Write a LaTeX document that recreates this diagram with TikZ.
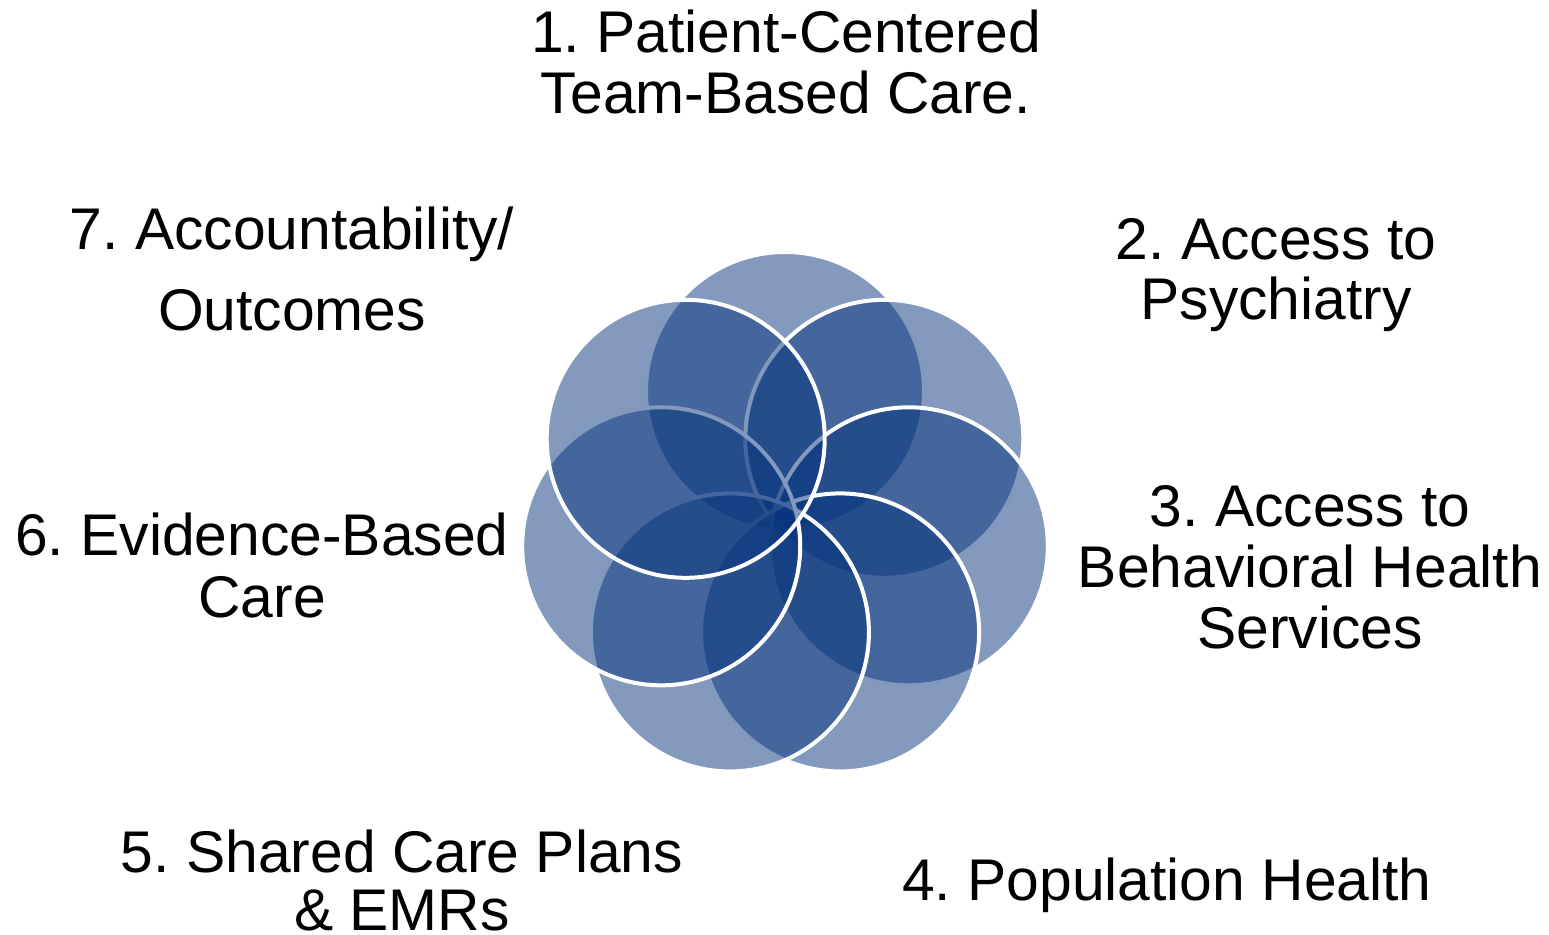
\documentclass[tikz,border=0pt]{standalone}
\usepackage{fontspec}
\setmainfont{Liberation Sans}
\usepackage{tikz}
\usetikzlibrary{positioning}
\frenchspacing
\definecolor{petalblue}{RGB}{7,52,124}
\tikzset{
  petal/.style={fill=petalblue, fill opacity=0.5, draw=white, line width=2pt},
  pillar/.style={align=center, anchor=base, inner sep=0pt, font=\fontsize{29.4}{30.5}\selectfont}
}

\begin{document}
\begin{tikzpicture}[x=0.5pt,y=-0.5pt]
        \useasboundingbox (0,0) rectangle (1549,934);
        \coordinate (C1) at (785,391);
        \coordinate (C2) at (884.3,438.8);
        \coordinate (C3) at (908.8,546.3);
        \coordinate (C4) at (840.1,632.4);
        \coordinate (C5) at (729.9,632.4);
        \coordinate (C6) at (661.2,546.3);
        \coordinate (C7) at (685.7,438.8);
        \filldraw[petal] (C1) circle (139);
        \filldraw[petal] (C2) circle (139);
        \filldraw[petal] (C3) circle (139);
        \filldraw[petal] (C4) circle (139);
        \filldraw[petal] (C5) circle (139);
        \filldraw[petal] (C6) circle (139);
        \filldraw[petal] (C7) circle (139);
        \node[pillar] (P1) at (786,113) {1. Patient-Centered\\Team-Based Care.};
        \node[pillar, font=\fontsize{29.4}{30}\selectfont] (P2) at (1276,319) {2. Access to\\Psychiatry};
        \node[pillar, font=\fontsize{29.4}{30.5}\selectfont] (P3) at (1310,648) {3. Access to\\Behavioral Health\\Services};
        \node[pillar] (P4) at (1167,900) {4. Population Health};
        \node[pillar, font=\fontsize{29.4}{29}\selectfont] (P5) at (402,930) {5. Shared Care Plans\\\& EMRs};
        \node[pillar, font=\fontsize{29.4}{31}\selectfont] (P6) at (262,617) {6. Evidence-Based\\Care};
        \node[pillar, font=\fontsize{29.4}{40.5}\selectfont] (P7) at (292,330) {7. Accountability/\\Outcomes};
    \end{tikzpicture}
\end{document}
